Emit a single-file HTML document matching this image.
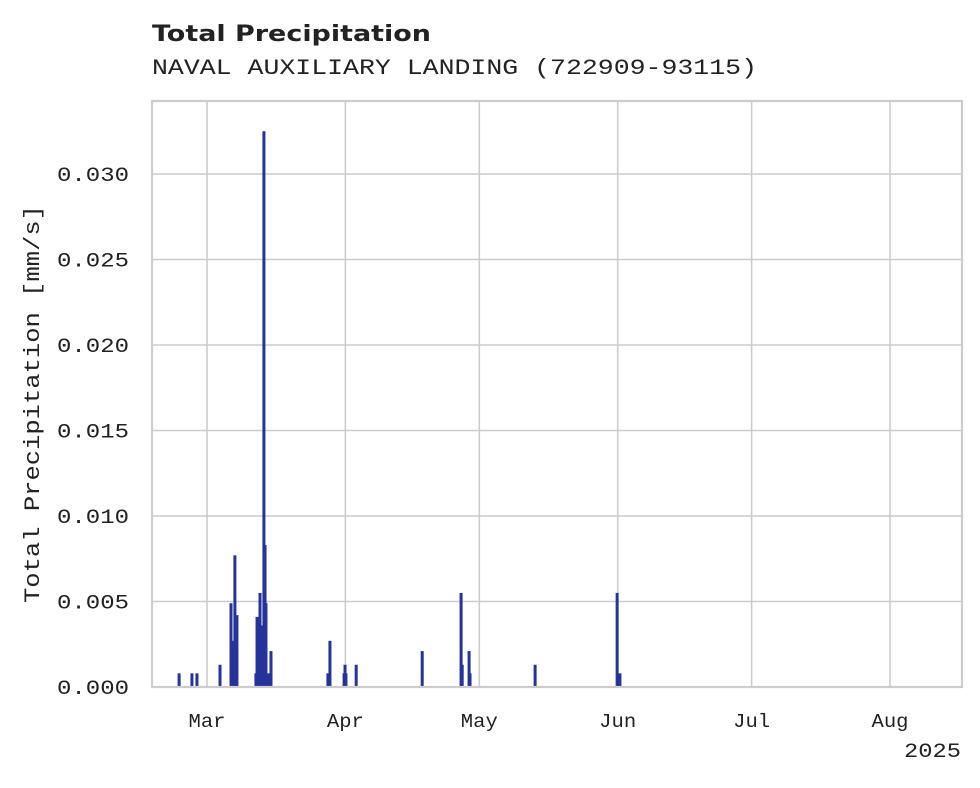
<!DOCTYPE html>
<html><head><meta charset="utf-8"><style>
html,body{margin:0;padding:0;background:#fff;}
svg text{font-family:"Liberation Mono","DejaVu Sans Mono",monospace;fill:#222;}
</style></head><body>
<svg id="chart" width="980" height="783" viewBox="0 0 980 783" xmlns="http://www.w3.org/2000/svg">
<rect width="980" height="783" fill="#fff"/>
<text x="152" y="41" textLength="279" lengthAdjust="spacingAndGlyphs" style="font-family:'DejaVu Sans','Liberation Sans',sans-serif;font-weight:bold;font-size:22px">Total Precipitation</text>
<text x="152" y="74" textLength="605" lengthAdjust="spacingAndGlyphs" font-size="22">NAVAL AUXILIARY LANDING (722909-93115)</text>
<g id="grid"></g>
<g id="bars"></g>
<g id="axes"></g>
<text transform="translate(39,404) rotate(-90)" text-anchor="middle" textLength="398" lengthAdjust="spacingAndGlyphs" font-size="22">Total Precipitation [mm/s]</text>
<text x="961" y="757" text-anchor="end" textLength="57" lengthAdjust="spacingAndGlyphs" font-size="20">2025</text>
</svg>
<script>
const times = ["2025-02-22T18:00","2025-02-25T15:00","2025-02-26T18:00","2025-03-03T22:00","2025-03-06T09:00","2025-03-06T19:00","2025-03-07T06:00","2025-03-07T17:00","2025-03-11T23:00","2025-03-12T05:00","2025-03-12T16:00","2025-03-12T21:00","2025-03-13T08:00","2025-03-13T18:00","2025-03-14T00:00","2025-03-14T05:00","2025-03-14T16:00","2025-03-15T08:00","2025-03-28T02:00","2025-03-28T13:00","2025-03-31T17:00","2025-03-31T22:00","2025-04-01T03:00","2025-04-03T10:00","2025-04-18T05:00","2025-04-26T22:00","2025-04-27T04:00","2025-04-28T17:00","2025-04-28T22:00","2025-05-13T12:00","2025-05-31T21:00","2025-06-01T12:00"];
const values = [0.0008,0.0008,0.0008,0.0013,0.0049,0.0027,0.0077,0.0042,0.0008,0.0041,0.0035,0.0055,0.0036,0.0325,0.0083,0.0049,0.0008,0.0021,0.0008,0.0027,0.0008,0.0013,0.0008,0.0013,0.0021,0.0055,0.0013,0.0021,0.0008,0.0013,0.0055,0.0008];
const yTicks = [0,0.005,0.010,0.015,0.020,0.025,0.030];
const xTickDates = ["2025-03-01","2025-04-01","2025-05-01","2025-06-01","2025-07-01","2025-08-01"];
const xTickLabels = ["Mar","Apr","May","Jun","Jul","Aug"];

const NS="http://www.w3.org/2000/svg";
const L=152,R=962,T=101,B=687;
const t0=Date.parse("2025-03-01T00:00Z"), t1=Date.parse("2025-08-01T00:00Z");
const px0=207, px1=890;
function x(s){const t=Date.parse(s.length<=10?s+"T00:00Z":s+"Z");return px0+(t-t0)/(t1-t0)*(px1-px0);}
function y(v){return B-v/0.03*(B-174);}
function mk(tag,attrs,parent){const e=document.createElementNS(NS,tag);for(const k in attrs)e.setAttribute(k,attrs[k]);parent.appendChild(e);return e;}
const grid=document.getElementById('grid'),bars=document.getElementById('bars'),axes=document.getElementById('axes');
yTicks.forEach((v,i)=>{
  const l=mk('line',{x1:L,x2:R,y1:y(v),y2:y(v),stroke:'#cccccc','stroke-width':1.6},grid);
  
  
  const t=mk('text',{x:129,y:y(v)+7,'text-anchor':'end','font-size':20,textLength:72,lengthAdjust:'spacingAndGlyphs'},axes);
  t.textContent=v.toFixed(3);
  
  
});
xTickDates.forEach((d,i)=>{
  const xx=x(d);
  const l=mk('line',{x1:xx,x2:xx,y1:T,y2:B,stroke:'#cccccc','stroke-width':1.6},grid);
  
  
  const t=mk('text',{x:xx,y:727,'text-anchor':'middle','font-size':19,textLength:37,lengthAdjust:'spacingAndGlyphs'},axes);
  t.textContent=xTickLabels[i];
  
  
});
times.forEach((s,i)=>{
  const xx=x(s), v=values[i];
  const r=mk('rect',{x:xx-1.5,y:y(v),width:3,height:B-y(v),fill:'#25339a'},bars);
  
  
});
const f=mk('rect',{x:L,y:T,width:R-L,height:B-T,fill:'none',stroke:'#cccccc','stroke-width':2.2},axes);


</script>
</body></html>
